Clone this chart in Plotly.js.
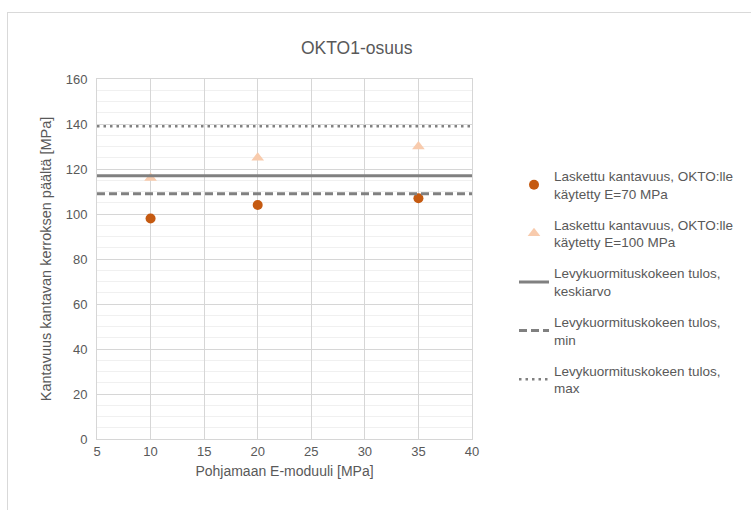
<!DOCTYPE html>
<html>
<head>
<meta charset="utf-8">
<script src="https://cdn.plot.ly/plotly-3.0.1.min.js"></script>
<style>
html,body{margin:0;padding:0;background:#fff;}
#wrap{position:relative;width:751px;height:510px;overflow:hidden;}
#chart{position:absolute;left:0;top:0;width:751px;height:510px;}
#frame{position:absolute;left:7px;top:12px;width:800px;height:600px;border:1.5px solid #d9d9d9;pointer-events:none;}
</style>
</head>
<body>
<div id="wrap"><div id="chart"></div><div id="frame"></div></div>
<script>
const eModulus = [10, 20, 35];
const capacityE70 = [98, 104, 107];
const capacityE100 = [116, 125, 130];
const lineX = [5, 40];
const plateMean = [117, 117];
const plateMin = [109, 109];
const plateMax = [139, 139];
const names = [
  'Laskettu kantavuus, OKTO:lle<br>käytetty E=70 MPa',
  'Laskettu kantavuus, OKTO:lle<br>käytetty E=100 MPa',
  'Levykuormituskokeen tulos,<br>keskiarvo',
  'Levykuormituskokeen tulos,<br>min',
  'Levykuormituskokeen tulos,<br>max'
];
const xTicks = [5, 10, 15, 20, 25, 30, 35, 40];
const yTicks = [0, 20, 40, 60, 80, 100, 120, 140, 160];
const yMinorTicks = [5, 10, 15, 25, 30, 35, 45, 50, 55, 65, 70, 75, 85, 90, 95, 105, 110, 115, 125, 130, 135, 145, 150, 155];

const font = 'Liberation Sans, Arial, sans-serif';
const grey = '#595959';
const traces = [
  {x: eModulus, y: capacityE70, type: 'scatter', mode: 'markers', name: names[0], legendgroup: 'a',
   marker: {symbol: 'circle', size: 10, color: '#C55A11'}},
  {x: eModulus, y: capacityE100, type: 'scatter', mode: 'markers', name: names[1], legendgroup: 'b',
   marker: {symbol: 'triangle-up', size: 11, color: '#F8CBAD'}},
  {x: lineX, y: plateMean, type: 'scatter', mode: 'lines', name: names[2], legendgroup: 'c',
   line: {color: '#808080', width: 3}},
  {x: lineX, y: plateMin, type: 'scatter', mode: 'lines', name: names[3], legendgroup: 'd',
   line: {color: '#808080', width: 3, dash: '8px,4px'}},
  {x: lineX, y: plateMax, type: 'scatter', mode: 'lines', name: names[4], legendgroup: 'e',
   line: {color: '#808080', width: 2.5, dash: '2.5px,4px'}}
];
const layout = {
  width: 751, height: 510,
  margin: {l: 97, r: 279, t: 79, b: 71},
  paper_bgcolor: '#ffffff', plot_bgcolor: '#ffffff',
  font: {family: font, color: grey, size: 13},
  title: {text: 'OKTO1-osuus', font: {family: font, size: 17.5, color: grey}, x: 0.475, xref: 'container', xanchor: 'center', y: 0.907, yref: 'container', yanchor: 'middle'},
  xaxis: {
    range: [5, 40], tickvals: xTicks, ticktext: xTicks.map(String),
    showgrid: true, gridcolor: '#d6d6d6', gridwidth: 1,
    showline: true, linecolor: '#d6d6d6', linewidth: 1, mirror: true,
    zeroline: false, ticks: '', tickfont: {size: 13, color: grey},
    title: {text: 'Pohjamaan E-moduuli [MPa]', font: {size: 14, color: grey}, standoff: 8}
  },
  yaxis: {
    range: [0, 160], tickvals: yTicks, ticktext: yTicks.map(String),
    showgrid: true, gridcolor: '#d6d6d6', gridwidth: 1,
    minor: {tickmode: 'array', tickvals: yMinorTicks, showgrid: true, gridcolor: '#f0f0f0', gridwidth: 1, ticks: ''},
    showline: true, linecolor: '#d6d6d6', linewidth: 1, mirror: true,
    zeroline: false, ticks: '', tickfont: {size: 13, color: grey}, ticklabelstandoff: 6,
    title: {text: 'Kantavuus kantavan kerroksen päältä [MPa]', font: {size: 14.5, color: grey}, standoff: 10}
  },
  showlegend: true,
  legend: {x: 1.112, xanchor: 'left', y: 0.773, yanchor: 'top', traceorder: 'grouped', tracegroupgap: 10.5,
           font: {size: 13.5, color: grey, family: font}, bgcolor: 'rgba(0,0,0,0)', itemwidth: 30}
};
Plotly.newPlot('chart', traces, layout, {displayModeBar: false, staticPlot: true});
</script>
</body>
</html>
